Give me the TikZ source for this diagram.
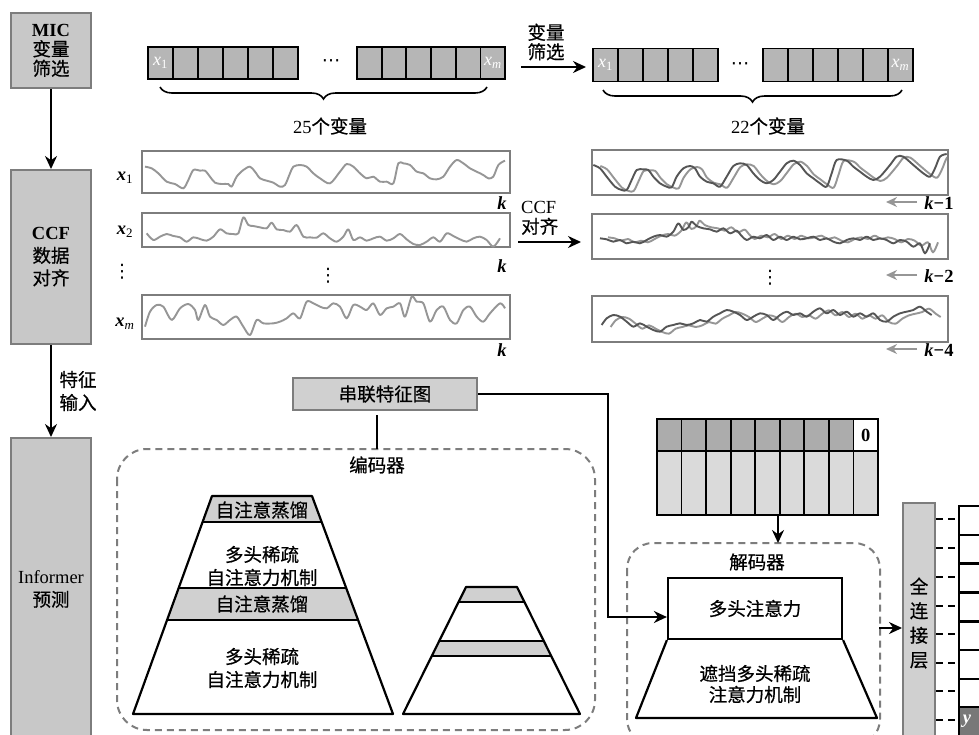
\documentclass[tikz,border=0pt]{standalone}
\usepackage{fontspec}
\setmainfont{Liberation Serif}
\newfontfamily\cjk[FakeBold=0.6]{Noto Sans CJK SC}
\newfontfamily\dvfont{DejaVu Sans}
\usetikzlibrary{arrows.meta,decorations.pathreplacing,calc}
\newcommand{\bivar}[2]{\textbf{\textit{#1}}\textsubscript{#2}}
\newcommand{\vdts}{{\dvfont ⋮}}
\newcommand{\hdts}{{\dvfont ⋯}}
\definecolor{leftfill}{RGB}{200,200,200}
\definecolor{edgegray}{RGB}{125,125,125}
\definecolor{cellfill}{RGB}{182,182,182}
\definecolor{lightfill}{RGB}{208,208,208}
\definecolor{darkcell}{RGB}{172,172,172}
\definecolor{palecell}{RGB}{218,218,218}
\definecolor{curvegray}{RGB}{150,150,150}
\definecolor{curvedark}{RGB}{85,85,85}
\definecolor{ycell}{RGB}{120,120,120}
\begin{document}
\begin{tikzpicture}[x=1pt,y=-1pt, font=\fontsize{18.5}{20}\selectfont,
 lbox/.style={draw=edgegray, fill=leftfill, line width=2pt, align=center, inner sep=0pt},
 cell/.style={draw=black, fill=cellfill, line width=1.8pt, minimum height=32pt, inner sep=0pt},
 tsbox/.style={draw=edgegray, line width=2pt, inner sep=0pt},
 arr/.style={-{Stealth[length=13pt,width=12pt]}, line width=2pt},
 garr/.style={-{Stealth[length=11pt,width=10pt]}, line width=2.4pt, draw=curvegray},
 curve/.style={curvegray, line width=1.9pt, line join=round},
 curved/.style={curvedark, line width=1.9pt, line join=round},
 lab/.style={inner sep=0pt, align=center},
 dbox/.style={draw=edgegray, dash pattern=on 7pt off 5pt, line width=2pt, rounded corners=30pt},
 celllab/.style={inner sep=0pt, text=white, font=\fontsize{18}{18}\selectfont},
 cjkt/.style={lab, font=\fontsize{18.5}{23}\selectfont\cjk}
]
\clip (0,0) rectangle (979,734);
\fill[white] (0,0) rectangle (979,734);

% ---------- left column ----------
\node[lbox, minimum width=80pt, minimum height=75pt, font=\fontsize{18.5}{19.5}\selectfont] (mic) at (51,50.5)
  {\textbf{MIC}\\{\cjk 变量}\\{\cjk 筛选}};
\node[lbox, minimum width=80pt, minimum height=174pt, font=\fontsize{18.5}{22.5}\selectfont] (ccf) at (51,257)
  {\textbf{CCF}\\{\cjk 数据}\\{\cjk 对齐}};
\node[lbox, minimum width=80pt, minimum height=302pt, font=\fontsize{18.5}{23}\selectfont] (inf) at (51,589)
  {Informer\\{\cjk 预测}};
\draw[arr] (mic) -- (ccf);
\draw[arr] (ccf) -- (inf);
\node[cjkt] (tz) at (78,391) {特征\\输入};

% ---------- top arrays ----------
\foreach \i in {0,...,5}
  \node[cell, minimum width=25pt] (la\i) at (160.5+25*\i, 63) {};
\foreach \i in {0,...,5}
  \node[cell, minimum width=24.7pt] (lb\i) at (369.3+24.7*\i, 63) {};
\node[celllab] at (la0) {\textit{x}\textsubscript{1}};
\node[celllab] at (lb5) {\textit{x}\textsubscript{\textit{m}}};
\node[lab] (ldots) at (331,63) {\hdts};
\coordinate (b1s) at (160,87);
\coordinate (b1e) at (487,87);
\draw[decorate, decoration={brace, mirror, amplitude=12pt}, line width=1.6pt] (b1s) -- (b1e);
\node[lab] (l25) at (330,126) {25{\cjk 个变量}};

\coordinate (s1) at (521,67);
\coordinate (s2) at (586,67);
\draw[arr] (s1) -- (s2);
\node[cjkt, font=\fontsize{18.5}{19.5}\selectfont\cjk] (sx) at (546,42) {变量\\筛选};

\foreach \i in {0,...,4}
  \node[cell, minimum width=25pt, minimum height=33pt] (ra\i) at (605.5+25*\i, 65) {};
\foreach \i in {0,...,5}
  \node[cell, minimum width=25pt, minimum height=33pt] (rb\i) at (775.5+25*\i, 65) {};
\node[celllab] at (ra0) {\textit{x}\textsubscript{1}};
\node[celllab] at (rb5) {\textit{x}\textsubscript{\textit{m}}};
\node[lab] (rdots) at (740,66) {\hdts};
\coordinate (b2s) at (603,90);
\coordinate (b2e) at (902,90);
\draw[decorate, decoration={brace, mirror, amplitude=12pt}, line width=1.6pt] (b2s) -- (b2e);
\node[lab] (l22) at (768,126) {22{\cjk 个变量}};

% ---------- time series, left ----------
\node[tsbox, minimum width=368pt, minimum height=42pt] (tl1) at (326,172) {};
\node[tsbox, minimum width=368pt, minimum height=34pt] (tl2) at (326,230) {};
\node[tsbox, minimum width=368pt, minimum height=44pt] (tl3) at (326,317) {};
\node[lab] (x1) at (125,178) {\bivar{x}{1}};
\node[lab] (x2) at (125,232) {\bivar{x}{2}};
\node[lab] (xd) at (122,272) {\vdts};
\node[lab] (xm) at (125,324) {\bivar{x}{\textit{m}}};
\node[lab] (md) at (328,276) {\vdts};
\node[lab] (k1) at (502,203) {\textbf{\textit{k}}};
\node[lab] (k2) at (502,266) {\textbf{\textit{k}}};
\node[lab] (k3) at (502,350) {\textbf{\textit{k}}};

\begin{scope}[shift={(100,140)}, scale=1/3]
\draw[curve] plot[smooth, tension=0.5] coordinates {(135,80)(155,85)(175,100)(200,125)(225,132)(250,145)(265,120)(280,90)(300,92)(315,92)(330,110)(345,128)(365,132)(385,132)(395,140)(410,110)(430,90)(450,80)(465,95)(480,115)(500,122)(520,128)(540,140)(555,135)(570,100)(580,80)(600,75)(620,80)(640,100)(660,115)(690,130)(720,95)(740,72)(760,80)(780,100)(800,115)(820,110)(840,125)(860,125)(880,130)(895,70)(910,70)(930,75)(950,95)(970,100)(990,115)(1010,118)(1030,110)(1050,80)(1070,60)(1090,70)(1110,85)(1130,95)(1150,105)(1165,115)(1180,110)(1195,75)(1215,62)};
\draw[curve] plot[smooth, tension=0.5] coordinates {(140,280)(160,300)(180,290)(200,282)(220,288)(240,292)(260,305)(280,292)(300,297)(320,302)(340,290)(360,268)(380,280)(400,282)(415,280)(430,232)(445,255)(460,258)(480,262)(500,265)(515,248)(530,268)(550,270)(570,275)(590,255)(610,290)(630,292)(650,293)(670,280)(690,295)(710,305)(730,290)(745,268)(760,300)(780,292)(800,302)(820,295)(840,290)(860,302)(880,295)(900,282)(920,298)(940,312)(960,315)(980,305)(1000,292)(1020,305)(1040,280)(1060,288)(1080,298)(1100,305)(1120,295)(1140,290)(1160,300)(1180,320)(1200,295)};
\draw[curve] plot[smooth, tension=0.5] coordinates {(135,560)(150,515)(170,495)(190,500)(215,540)(240,505)(265,492)(285,510)(295,540)(315,495)(330,530)(350,540)(370,555)(390,540)(410,530)(430,560)(450,585)(470,540)(490,550)(520,550)(540,545)(560,535)(580,520)(600,535)(620,485)(640,490)(660,500)(680,505)(700,490)(720,500)(740,535)(760,495)(780,500)(800,510)(820,490)(840,525)(860,505)(880,500)(900,490)(915,530)(935,470)(950,485)(970,490)(990,545)(1010,510)(1030,500)(1050,540)(1070,550)(1090,510)(1110,500)(1130,530)(1150,545)(1170,520)(1200,490)(1215,505)};
\end{scope}

\coordinate (c1) at (518,242);
\coordinate (c2) at (581,242);
\draw[arr] (c1) -- (c2);
\node[lab, align=left, anchor=west, font=\fontsize{18.5}{20}\selectfont] (ccflab) at (521,218) {CCF\\{\cjk 对齐}};

% ---------- time series, right ----------
\node[tsbox, minimum width=356pt, minimum height=45pt] (tr1) at (770,172.5) {};
\node[tsbox, minimum width=356pt, minimum height=45pt] (tr2) at (770,236.5) {};
\node[tsbox, minimum width=356pt, minimum height=46pt] (tr3) at (770,319) {};

\begin{scope}
\clip (593,151) rectangle (947,194);
\begin{scope}[shift={(567,141)}, scale=1/3]
\draw[curve] plot[smooth, tension=0.5] coordinates {(100,75)(120,85)(140,110)(165,140)(185,150)(200,150)(215,120)(230,90)(250,88)(265,90)(280,110)(300,130)(320,140)(335,142)(350,110)(370,85)(390,78)(405,85)(420,110)(440,125)(460,130)(480,140)(500,110)(520,78)(540,70)(560,75)(580,100)(600,120)(620,130)(640,120)(660,95)(680,70)(700,62)(720,75)(740,100)(760,115)(780,130)(800,140)(815,100)(830,60)(860,62)(880,80)(900,95)(920,110)(940,120)(960,110)(990,75)(1010,50)(1030,50)(1060,75)(1090,100)(1110,110)(1125,85)(1140,50)(1160,42)};
\end{scope}
\begin{scope}[shift={(560,140)}, scale=1/3]
\draw[curved] plot[smooth, tension=0.5] coordinates {(100,75)(120,85)(140,110)(165,140)(185,150)(200,150)(215,120)(230,90)(250,88)(265,90)(280,110)(300,130)(320,140)(335,142)(350,110)(370,85)(390,78)(405,85)(420,110)(440,125)(460,130)(480,140)(500,110)(520,78)(540,70)(560,75)(580,100)(600,120)(620,130)(640,120)(660,95)(680,70)(700,62)(720,75)(740,100)(760,115)(780,130)(800,140)(815,100)(830,60)(860,62)(880,80)(900,95)(920,110)(940,120)(960,110)(990,75)(1010,50)(1030,50)(1060,75)(1090,100)(1110,110)(1125,85)(1140,50)(1160,42)};
\end{scope}
\end{scope}

\begin{scope}
\clip (593,215) rectangle (947,258);
\begin{scope}[shift={(568,139)}, scale=1/3]
\draw[curve] plot[smooth, tension=0.5] coordinates {(120,295)(140,298)(160,305)(180,300)(200,310)(220,305)(240,310)(260,300)(280,290)(300,285)(320,290)(340,275)(355,250)(370,270)(385,262)(395,245)(410,258)(430,265)(450,268)(470,275)(490,265)(510,280)(530,272)(545,288)(560,300)(580,290)(600,295)(620,285)(640,300)(660,290)(680,300)(700,290)(720,298)(740,295)(760,290)(780,300)(800,295)(820,305)(840,310)(860,300)(880,295)(900,300)(920,290)(940,300)(960,295)(980,300)(1000,310)(1020,300)(1040,305)(1060,320)(1080,310)(1095,340)(1110,310)};
\end{scope}
\begin{scope}[shift={(560,140)}, scale=1/3]
\draw[curved] plot[smooth, tension=0.5] coordinates {(120,295)(140,298)(160,305)(180,300)(200,310)(220,305)(240,310)(260,300)(280,290)(300,285)(320,290)(340,275)(355,250)(370,270)(385,262)(395,245)(410,258)(430,265)(450,268)(470,275)(490,265)(510,280)(530,272)(545,288)(560,300)(580,290)(600,295)(620,285)(640,300)(660,290)(680,300)(700,290)(720,298)(740,295)(760,290)(780,300)(800,295)(820,305)(840,310)(860,300)(880,295)(900,300)(920,290)(940,300)(960,295)(980,300)(1000,310)(1020,300)(1040,305)(1060,320)(1080,310)(1095,340)(1110,310)};
\end{scope}
\end{scope}

\begin{scope}
\clip (593,297) rectangle (947,341);
\begin{scope}[shift={(569,142)}, scale=1/3]
\draw[curve] plot[smooth, tension=0.5] coordinates {(125,555)(140,535)(160,525)(180,530)(200,545)(220,560)(240,550)(260,560)(280,570)(300,575)(320,560)(340,555)(360,550)(380,555)(400,550)(420,540)(440,545)(460,530)(480,520)(500,510)(520,515)(540,525)(560,540)(580,530)(600,520)(620,525)(640,540)(660,525)(680,515)(700,525)(720,520)(740,530)(760,515)(780,505)(800,520)(820,510)(840,525)(860,515)(880,530)(900,520)(920,530)(940,520)(960,540)(980,545)(1000,530)(1020,520)(1040,515)(1060,510)(1080,500)(1100,515)(1115,525)};
\end{scope}
\begin{scope}[shift={(560,140)}, scale=1/3]
\draw[curved] plot[smooth, tension=0.5] coordinates {(125,555)(140,535)(160,525)(180,530)(200,545)(220,560)(240,550)(260,560)(280,570)(300,575)(320,560)(340,555)(360,550)(380,555)(400,550)(420,540)(440,545)(460,530)(480,520)(500,510)(520,515)(540,525)(560,540)(580,530)(600,520)(620,525)(640,540)(660,525)(680,515)(700,525)(720,520)(740,530)(760,515)(780,505)(800,520)(820,510)(840,525)(860,515)(880,530)(900,520)(920,530)(940,520)(960,540)(980,545)(1000,530)(1020,520)(1040,515)(1060,510)(1080,500)(1100,515)(1115,525)};
\end{scope}
\end{scope}

\node[lab] (rd) at (770,278) {\vdts};
\coordinate (g1s) at (917,202); \coordinate (g1e) at (886,202);
\coordinate (g2s) at (917,275); \coordinate (g2e) at (886,275);
\coordinate (g3s) at (917,349); \coordinate (g3e) at (886,349);
\draw[garr] (g1s) -- (g1e);
\draw[garr] (g2s) -- (g2e);
\draw[garr] (g3s) -- (g3e);
\node[lab] (km1) at (939,203) {\textbf{\textit{k}−1}};
\node[lab] (km2) at (939,276) {\textbf{\textit{k}−2}};
\node[lab] (km4) at (939,350) {\textbf{\textit{k}−4}};

% ---------- encoder ----------
\node[draw=edgegray, fill=lightfill, line width=2pt, minimum width=184pt, minimum height=32pt, inner sep=0pt, font=\fontsize{18.5}{20}\selectfont\cjk] (lian) at (385,394) {串联特征图};
\draw[dbox] (117,449) rectangle (595,730);
\coordinate (enctop) at (377,449);
\coordinate (lianb) at (377,415);
\draw[line width=2pt] (lianb) -- (enctop);
\node[cjkt] (enc) at (377,465) {编码器};

% big pyramid
\fill[lightfill] (212,496) -- (312,496) -- (321.7,522) -- (202.6,522) -- cycle;
\fill[lightfill] (178.7,588) -- (346.2,588) -- (358.1,620) -- (167.1,620) -- cycle;
\draw[line width=2.2pt, line join=round] (212,496) -- (312,496) -- (393,714) -- (133,714) -- cycle;
\draw[line width=2.2pt] (202.6,522) -- (321.7,522);
\draw[line width=2.2pt] (178.7,588) -- (346.2,588);
\draw[line width=2.2pt] (167.1,620) -- (358.1,620);
\node[cjkt] (e1) at (262,510) {自注意蒸馏};
\node[cjkt] (e2) at (262,566) {多头稀疏\\自注意力机制};
\node[cjkt] (e3) at (262,604) {自注意蒸馏};
\node[cjkt] (e4) at (262,668) {多头稀疏\\自注意力机制};

% small pyramid
\fill[lightfill] (466,587) -- (517,587) -- (524.4,602) -- (458.6,602) -- cycle;
\fill[lightfill] (439.2,641) -- (543.8,641) -- (551.2,656) -- (431.8,656) -- cycle;
\draw[line width=2.2pt, line join=round] (466,587) -- (517,587) -- (580,714) -- (403,714) -- cycle;
\draw[line width=2.2pt] (458.6,602) -- (524.4,602);
\draw[line width=2.2pt] (439.2,641) -- (543.8,641);
\draw[line width=2.2pt] (431.8,656) -- (551.2,656);

% ---------- decoder input grid ----------
\foreach \i in {0,...,8} {
  \node[draw=black, fill=darkcell, line width=1.8pt, minimum width=24.55pt, minimum height=32pt, inner sep=0pt] (gt\i) at (669.3+24.55*\i,435) {};
  \node[draw=black, fill=palecell, line width=1.8pt, minimum width=24.55pt, minimum height=64pt, inner sep=0pt] (gb\i) at (669.3+24.55*\i,483) {};
}
\node[draw=black, fill=white, line width=1.8pt, minimum width=24.55pt, minimum height=32pt, inner sep=0pt] (gz) at (gt8) {\textbf{0}};

% ---------- decoder ----------
\draw[dbox, rounded corners=26pt] (627,543) rectangle (880,745);
\coordinate (dectop) at (778,543);
\coordinate (gridb) at (778,516);
\draw[arr] (gridb) -- (dectop);
\node[cjkt] (dec) at (757,562) {解码器};
\node[draw=black, line width=2.2pt, minimum width=174pt, minimum height=61pt, inner sep=0pt, font=\fontsize{18.5}{20}\selectfont\cjk] (att) at (755,608.5) {多头注意力};
\draw[line width=2.2pt, line join=round] (att.south west) -- (636,718) -- (877,718) -- (att.south east);
\node[cjkt, font=\fontsize{18.5}{21}\selectfont\cjk] (mask) at (755,684) {遮挡多头稀疏\\注意力机制};

\coordinate (bend) at (608,617);
\draw[arr] (lian.east) -| (bend) -- (bend -| att.west);

% ---------- fully connected ----------
\node[draw=edgegray, fill=lightfill, line width=2pt, minimum width=32pt, minimum height=245pt, inner sep=0pt] (fc) at (919,625.5) {};
\node[lab, font=\fontsize{18.5}{24.5}\selectfont\cjk] (fct) at (919,623) {全\\连\\接\\层};
\coordinate (deco) at (879,628);
\draw[arr] (deco) -- (deco -| fc.west);

\foreach \y [count=\j] in {505,533.5,562.5,591.5,620.5,649,677.5} {
  \node[draw=black, line width=2pt, minimum width=30pt, minimum height=28.7pt, inner sep=0pt, anchor=north west] (o\j) at (958,\y) {};
}
\node[draw=black, fill=ycell, line width=2pt, minimum width=30pt, minimum height=34pt, inner sep=0pt, anchor=north west] (oy) at (958,706) {};
\node[lab, text=white] (yl) at (967,721) {\textbf{\textit{y}}};
\foreach \y in {519,548,577,606,634,663,691,720}
  \draw[line width=2pt, dash pattern=on 7pt off 5pt] (936,\y) -- (958,\y);
\end{tikzpicture}
\end{document}
